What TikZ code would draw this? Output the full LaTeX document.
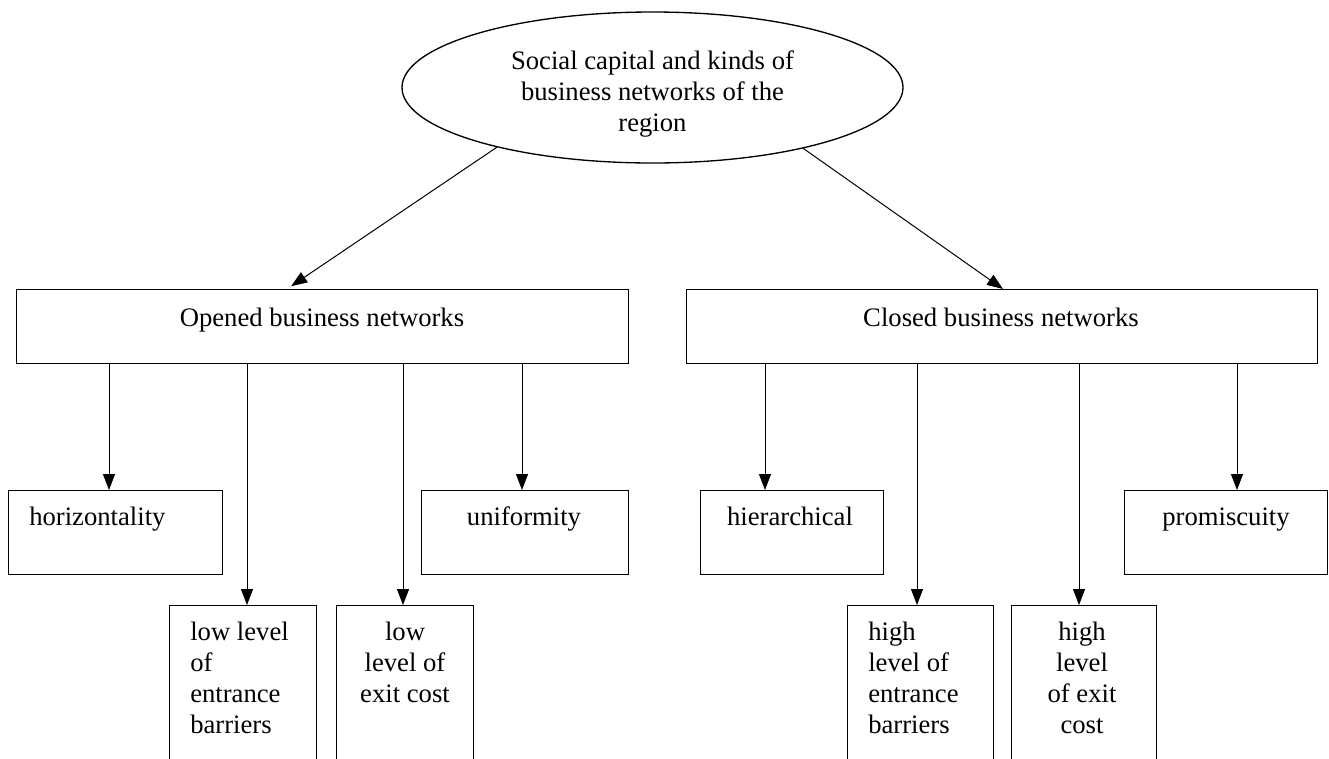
\documentclass[tikz,border=0pt]{standalone}
\usepackage{fontspec}
\setmainfont{Liberation Serif}
\usetikzlibrary{shapes.geometric,arrows.meta}
\begin{document}
\begin{tikzpicture}[x=0.75pt,y=-0.75pt,
  font=\fontsize{20}{23.25}\selectfont,
  box/.style={draw,line width=1pt,inner sep=0pt,anchor=north west},
  lbl/.style={inner sep=0pt},
  arr/.style={line width=0.75pt,-{Triangle[length=12pt,width=9pt]}},
]
\useasboundingbox (0,0) rectangle (1329,758);
% root ellipse
\node[draw,ellipse,line width=1pt,minimum width=375.75pt,minimum height=113.25pt,
      inner sep=0pt] (top) at (652.5,87.5) {};
\node[lbl,anchor=north,align=center] (topt) at (652.5,50)
      {Social capital and kinds of\\business networks of the\\region};
% level 1 boxes
\node[box,minimum width=459pt,minimum height=55.5pt] (open) at (16,289) {};
\node[lbl,anchor=base] (opent) at (322,326) {Opened business networks};
\node[box,minimum width=473.25pt,minimum height=55.5pt] (closed) at (686,289) {};
\node[lbl,anchor=base] (closedt) at (1001,326) {Closed business networks};
% opened children
\node[box,minimum width=160.5pt,minimum height=63pt] (hz) at (8,490) {};
\node[lbl,anchor=base west] (hzt) at (29,525) {horizontality};
\node[box,minimum width=155.25pt,minimum height=63pt] (un) at (421,490) {};
\node[lbl,anchor=base] (unt) at (524,525) {uniformity};
\node[box,minimum width=110.25pt,minimum height=123.75pt] (le) at (169,605) {};
\node[lbl,anchor=north west,align=left] (let) at (190,622) {low level\\of\\entrance\\barriers};
\node[box,minimum width=102.75pt,minimum height=123.75pt] (lx) at (336,605) {};
\node[lbl,anchor=north,align=center] (lxt) at (405,622) {low\\level of\\exit cost};
% closed children
\node[box,minimum width=137.25pt,minimum height=63pt] (hi) at (700,490) {};
\node[lbl,anchor=base] (hit) at (790,525) {hierarchical};
\node[box,minimum width=152.25pt,minimum height=63pt] (pr) at (1124,490) {};
\node[lbl,anchor=base] (prt) at (1226,525) {promiscuity};
\node[box,minimum width=109.5pt,minimum height=123.75pt] (he) at (847,605) {};
\node[lbl,anchor=north west,align=left] (het) at (868,622) {high\\level of\\entrance\\barriers};
\node[box,minimum width=108.75pt,minimum height=123.75pt] (hx) at (1011,605) {};
\node[lbl,anchor=north,align=center] (hxt) at (1082,622) {high\\level\\of exit\\cost};
% connectors
\draw[arr,shorten >=3.75pt] (top.201.9) -- (open.north -| 287,0);
\draw[arr] (top.338.8) -- (closed.north -| 1003,0);
\draw[arr] (open.south -| 109,0) -- (hz.north -| 109,0);
\draw[arr] (open.south -| 247,0) -- (le.north -| 247,0);
\draw[arr] (open.south -| 403,0) -- (lx.north -| 403,0);
\draw[arr] (open.south -| 522,0) -- (un.north -| 522,0);
\draw[arr] (closed.south -| 765,0) -- (hi.north -| 765,0);
\draw[arr] (closed.south -| 917,0) -- (he.north -| 917,0);
\draw[arr] (closed.south -| 1079,0) -- (hx.north -| 1079,0);
\draw[arr] (closed.south -| 1237,0) -- (pr.north -| 1237,0);
\end{tikzpicture}
\end{document}
